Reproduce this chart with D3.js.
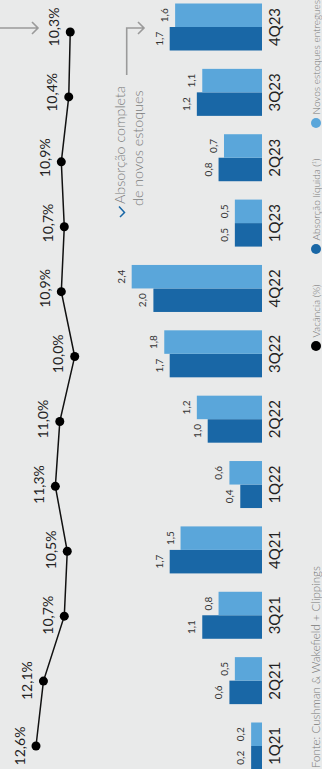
<!DOCTYPE html>
<html><head><meta charset="utf-8">
<script src="https://cdn.jsdelivr.net/npm/d3@7"></script>
<style>
html,body{margin:0;padding:0;background:#e9eaea;}
svg{display:block;font-family:Lato,"Open Sans",sans-serif;}
</style></head>
<body><svg id="c" width="322" height="769"></svg>
<script>
const categories = ["1Q21","2Q21","3Q21","4Q21","1Q22","2Q22","3Q22","4Q22","1Q23","2Q23","3Q23","4Q23"];
const vacancia = [12.6,12.1,10.7,10.5,11.3,11.0,10.0,10.9,10.7,10.9,10.4,10.3];
const absorcao = [0.2,0.6,1.1,1.7,0.4,1.0,1.7,2.0,0.5,0.8,1.2,1.7];
const novos = [0.2,0.5,0.8,1.5,0.6,1.2,1.8,2.4,0.5,0.7,1.1,1.6];
const legendLabels = ["Vacância (%)","Absorção líquida (¹)","Novos estoques entregues"];
const source = "Fonte: Cushman & Wakefield + Clippings";

const cDark = "#1967a6", cLight = "#5aa6da";
const svg = d3.select("#c");
svg.append("rect").attr("width",322).attr("height",769).attr("fill","#e9eaea");
const g = svg.append("g").attr("transform","translate(0,769) rotate(-90)");

const fmt = v => d3.format(".1f")(v).replace(".", ",");
const x = d3.scalePoint().domain(categories).range([23, 742]);
const xLine = d3.scalePoint().domain(categories).range([23, 737]);
const y = d3.scaleLinear().domain([0, 2.4]).range([262, 262 - 2.4*54.3]);
const yV = d3.scaleLinear().domain([10.0, 12.6]).range([74.7, 36]);
const bw = 23.5;

// bars
const bars = g.append("g");
bars.selectAll("rect.d").data(categories).join("rect")
  .attr("x", (c)=>x(c)-bw).attr("width", bw)
  .attr("y", (c,i)=>y(absorcao[i])).attr("height",(c,i)=>y(0)-y(absorcao[i]))
  .attr("fill", cDark);
bars.selectAll("rect.l").data(categories).join("rect")
  .attr("x", (c)=>x(c)).attr("width", bw)
  .attr("y", (c,i)=>y(novos[i])).attr("height",(c,i)=>y(0)-y(novos[i]))
  .attr("fill", cLight);
bars.selectAll("text.d").data(categories).join("text")
  .attr("x", c=>x(c)-bw/2).attr("y",(c,i)=>y(absorcao[i])-7)
  .attr("text-anchor","middle").attr("font-size",10).attr("fill","#333")
  .text((c,i)=>fmt(absorcao[i]));
bars.selectAll("text.l").data(categories).join("text")
  .attr("x", c=>x(c)+bw/2).attr("y",(c,i)=>y(novos[i])-7)
  .attr("text-anchor","middle").attr("font-size",10).attr("fill","#333")
  .text((c,i)=>fmt(novos[i]));

// category labels
g.append("g").selectAll("text").data(categories).join("text")
  .attr("x", c=>x(c)).attr("y", 279.5)
  .attr("text-anchor","middle").attr("font-size",15).attr("fill","#222")
  .text(c=>c);

// line
const line = d3.line().x((d,i)=>xLine(categories[i])).y(d=>yV(d));
g.append("path").datum(vacancia).attr("d", line)
  .attr("fill","none").attr("stroke","#111").attr("stroke-width",1.5);
g.append("g").selectAll("circle").data(vacancia).join("circle")
  .attr("cx",(d,i)=>xLine(categories[i])).attr("cy",d=>yV(d)).attr("r",4.5).attr("fill","#000");
g.append("g").selectAll("text").data(vacancia).join("text")
  .attr("x",(d,i)=>x(categories[i])).attr("y",d=>yV(d)-11.5)
  .attr("text-anchor","middle").attr("font-size",14).attr("fill","#222")
  .text(d=>fmt(d)+"%");

// annotations
const ann = g.append("g").attr("fill","none").attr("stroke","#9a9a9a").attr("stroke-width",1.6);
ann.append("path").attr("d","M741,0 V38 M735,32 L741,38 L747,32");
ann.append("path").attr("d","M694,126.7 H741 V144 M735,138 L741,144 L747,138");
g.append("path").attr("d","M552,120 L556.5,124.5 L562.5,119").attr("fill","none").attr("stroke",cDark).attr("stroke-width",1.5);
const at = g.append("text").attr("font-size",14.3).attr("font-weight",300).attr("fill","#7a7a7a");
at.append("tspan").attr("x",565).attr("y",125).text("Absorção completa");
at.append("tspan").attr("x",563).attr("y",143).text("de novos estoques");

// legend
const legColors = ["#000", cDark, cLight];
const legU = [423, 520, 646];
const leg = g.append("g");
legendLabels.forEach((t,i)=>{
  leg.append("circle").attr("cx",legU[i]).attr("cy",316).attr("r",5).attr("fill",legColors[i]);
  leg.append("text").attr("x",legU[i]+8.5).attr("y",320).attr("font-size",10).attr("font-weight",300)
    .attr("fill","#777").text(t);
});
g.append("text").attr("x",1).attr("y",320).attr("font-size",11.5).attr("font-weight",300)
  .attr("fill","#777").text(source);
</script></body></html>
